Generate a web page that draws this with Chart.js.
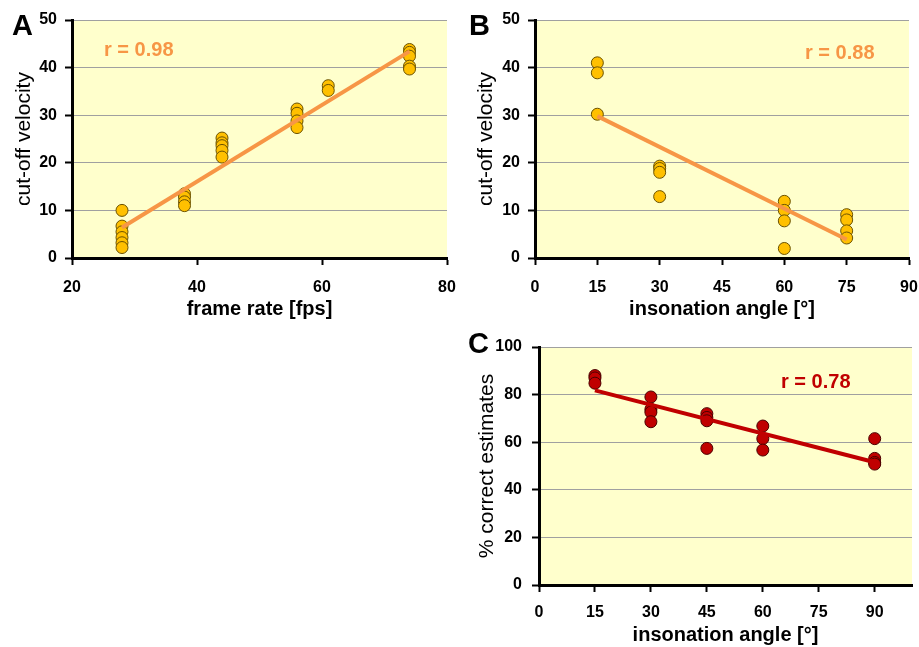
<!DOCTYPE html>
<html>
<head>
<meta charset="utf-8">
<script src="https://cdn.jsdelivr.net/npm/chart.js@4.4.1/dist/chart.umd.min.js"></script>
<style>
    body { margin: 0; background: #fff; font-family: "Liberation Sans", Arial, sans-serif; }
    #wrap { position: relative; width: 919px; height: 647px; overflow: hidden; }
    canvas { position: absolute; }
    .panel-letter { position: absolute; font-size: 29px; font-weight: bold; line-height: 1; color: #000; }
    .r-note { position: absolute; font-size: 20px; font-weight: bold; line-height: 1; white-space: nowrap; }
</style>
</head>
<body>
<div id="wrap">
    <canvas id="chartA" width="460" height="330" style="left:0; top:0;"></canvas>
    <canvas id="chartB" width="459" height="330" style="left:460px; top:0;"></canvas>
    <canvas id="chartC" width="459" height="317" style="left:460px; top:330px;"></canvas>

    <div class="panel-letter" style="left:12px; top:11px;">A</div>
    <div class="panel-letter" style="left:469px; top:11px;">B</div>
    <div class="panel-letter" style="left:468px; top:329px;">C</div>

    <div class="r-note" style="left:104px; top:39px; color:#F79646;">r = 0.98</div>
    <div class="r-note" style="left:805px; top:42px; color:#F79646;">r = 0.88</div>
    <div class="r-note" style="left:781px; top:371px; color:#C00000;">r = 0.78</div>
</div>

<script>
// --- Data ---
// A: cut-off velocity vs frame rate
const frameRates = [28, 38, 44, 56, 61, 74];
const velocityByFrameRate = [
    [10, 6.7, 5.5, 4.3, 3.2, 2.2],
    [13.5, 12.8, 11.8, 11],
    [25.2, 24.2, 23.6, 22.6, 21.2],
    [31.3, 30.4, 28.8, 27.4],
    [36.2, 35.2],
    [43.8, 43.2, 42.4, 40.3, 39.7]
];
const trendAx = [28, 74];
const trendAy = [6.4, 43.4];

// B: cut-off velocity vs insonation angle
const anglesB = [15, 30, 60, 75];
const velocityByAngle = [
    [41, 38.9, 30.2],
    [19.3, 18.8, 18, 12.9],
    [11.9, 10, 7.8, 2],
    [9.1, 8, 5.7, 4.2]
];
const trendBx = [15, 75];
const trendBy = [29.8, 3.9];

// C: % correct estimates vs insonation angle
const anglesC = [15, 30, 45, 60, 90];
const correctByAngle = [
    [88, 87, 84.8],
    [79, 73.8, 72.6, 68.6],
    [72, 70.4, 69, 57.4],
    [66.8, 61.5, 56.7],
    [61.5, 53.2, 51.5, 50.8]
];
const trendCx = [15, 90];
const trendCy = [81.8, 51.6];

// tick labels
const frameRateTicks = [20, 40, 60, 80];
const angleTicks = [0, 15, 30, 45, 60, 75, 90];
const velocityTicks = [0, 10, 20, 30, 40, 50];
const percentTicks = [0, 20, 40, 60, 80, 100];

document.addEventListener("DOMContentLoaded", () => {

    const FONT = "'Liberation Sans', Arial, sans-serif";

    // yellow plot background
    const plotBg = {
        id: 'plotBg',
        beforeDraw(chart) {
            const { ctx, chartArea: a } = chart;
            ctx.save();
            ctx.fillStyle = '#FFFFCC';
            ctx.fillRect(a.left, a.top, a.right - a.left, a.bottom - a.top);
            ctx.restore();
        }
    };

    function toPoints(xs, groups) {
        const pts = [];
        xs.forEach((x, i) => groups[i].forEach(y => pts.push({ x: x, y: y })));
        return pts;
    }

    function toLine(xs, ys) {
        return xs.map((x, i) => ({ x: x, y: ys[i] }));
    }

    function makeChart(id, o) {
        new Chart(document.getElementById(id), {
            type: 'scatter',
            data: {
                datasets: [
                    {
                        data: toLine(o.trendX, o.trendY),
                        showLine: true,
                        borderColor: o.lineColor,
                        borderWidth: 4,
                        pointRadius: 0,
                        borderCapStyle: 'butt'
                    },
                    {
                        data: toPoints(o.xs, o.groups),
                        backgroundColor: o.dotFill,
                        borderColor: o.dotEdge,
                        borderWidth: 1,
                        pointRadius: 6
                    }
                ]
            },
            options: {
                responsive: false,
                animation: false,
                layout: { padding: { top: o.top, right: o.right, left: 0, bottom: 0 } },
                plugins: { legend: { display: false }, tooltip: { enabled: false } },
                scales: {
                    x: {
                        type: 'linear',
                        min: o.xMin, max: o.xMax,
                        afterBuildTicks: s => { s.ticks = o.xTicks.map(v => ({ value: v })); },
                        afterFit: s => {
                            s.height = o.xHeight;
                            // keep the plot edges fixed, labels may overhang
                            s.paddingLeft = 0;
                            s.paddingRight = 0;
                        },
                        grid: { drawOnChartArea: false, tickColor: '#000', tickLength: 7, tickWidth: 2 },
                        border: { color: '#000', width: 3 },
                        ticks: { color: '#000', padding: o.xTickPad, maxRotation: 0, font: { family: FONT, size: 16, weight: 'bold' } },
                        title: {
                            display: true, text: o.xTitle, color: '#000',
                            font: { family: FONT, size: 20, weight: 'bold' },
                            padding: { top: 0, bottom: o.xTitlePad }
                        }
                    },
                    y: {
                        min: o.yMin, max: o.yMax,
                        afterBuildTicks: s => { s.ticks = o.yTicks.map(v => ({ value: v })); },
                        afterFit: s => {
                            s.width = o.yWidth;
                            s.paddingTop = 0;
                            s.paddingBottom = 0;
                        },
                        grid: { color: '#A0A0A0', lineWidth: 1, tickColor: '#000', tickLength: 7, tickWidth: 2 },
                        border: { color: '#000', width: 3 },
                        ticks: { color: '#000', padding: o.yTickPad, font: { family: FONT, size: 16, weight: 'bold' } },
                        title: {
                            display: true, text: o.yTitle, color: '#000',
                            font: { family: FONT, size: 21, weight: 'normal' },
                            padding: { top: o.yTitlePad, bottom: 0 }
                        }
                    }
                }
            },
            plugins: [plotBg]
        });
    }

    // --- Panel A ---
    makeChart('chartA', {
        xs: frameRates, groups: velocityByFrameRate,
        trendX: trendAx, trendY: trendAy,
        lineColor: '#F79646', dotFill: '#FFC000', dotEdge: '#6B5200',
        xMin: 20, xMax: 80, xTicks: frameRateTicks, xTitle: 'frame rate [fps]',
        yMin: 0, yMax: 50, yTicks: velocityTicks, yTitle: 'cut-off velocity',
        top: 20, right: 13, yWidth: 72, xHeight: 72,
        yTickPad: 8, xTickPad: 13, yTitlePad: 12, xTitlePad: 9
    });

    // --- Panel B ---
    makeChart('chartB', {
        xs: anglesB, groups: velocityByAngle,
        trendX: trendBx, trendY: trendBy,
        lineColor: '#F79646', dotFill: '#FFC000', dotEdge: '#6B5200',
        xMin: 0, xMax: 90, xTicks: angleTicks, xTitle: 'insonation angle [°]',
        yMin: 0, yMax: 50, yTicks: velocityTicks, yTitle: 'cut-off velocity',
        top: 20, right: 10, yWidth: 75, xHeight: 72,
        yTickPad: 8, xTickPad: 13, yTitlePad: 14, xTitlePad: 9
    });

    // --- Panel C ---
    makeChart('chartC', {
        xs: anglesC, groups: correctByAngle,
        trendX: trendCx, trendY: trendCy,
        lineColor: '#C00000', dotFill: '#C00000', dotEdge: '#4A0000',
        xMin: 0, xMax: 100, xTicks: angleTicks, xTitle: 'insonation angle [°]',
        yMin: 0, yMax: 100, yTicks: percentTicks, yTitle: '% correct estimates',
        top: 17, right: 6, yWidth: 79, xHeight: 62,
        yTickPad: 10, xTickPad: 11, yTitlePad: 15, xTitlePad: 0
    });
});
</script>
</body>
</html>
